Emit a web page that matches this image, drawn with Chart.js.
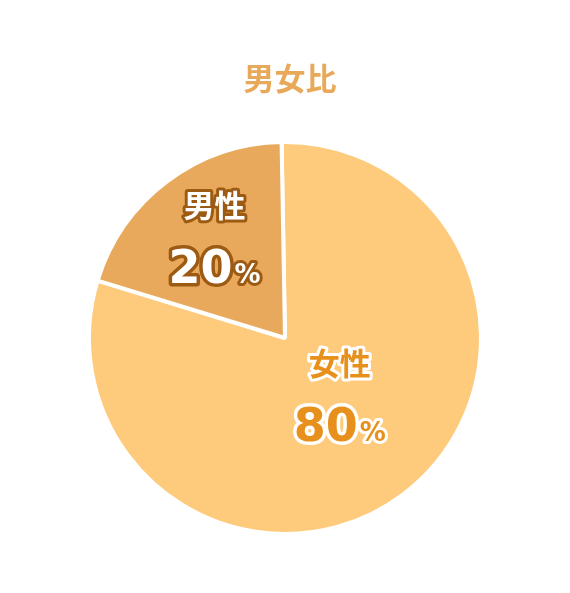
<!DOCTYPE html>
<html><head><meta charset="utf-8">
<script src="https://cdn.jsdelivr.net/npm/chart.js@4.4.0/dist/chart.umd.min.js"></script>
<style>html,body{margin:0;padding:0;background:#fff}#wrap{width:570px;height:593px}</style>
</head><body><div id="wrap"><canvas id="c"></canvas></div>
<script>
const titleText = '男女比';
const categories = ['女性', '男性'];
const values = [80, 20];
const sliceColors = ['#FECB7D', '#E8A95C'];
const labelFill = ['#E8901C', '#FFFFFF'];
const labelStroke = ['#FFFFFF', '#9C5A12'];

const FONT = '"Noto Sans CJK JP", "Noto Sans", sans-serif';
const NUMFONT = '"DejaVu Sans", "Noto Sans", sans-serif';
const labelRadius = [0.41, 0.63];
const labelShift = [[7, -5.5], [3, -2]];

const titlePlugin = {
  id: 'titleText',
  afterDraw(chart) {
    const ctx = chart.ctx;
    ctx.save();
    ctx.font = 'bold 31px ' + FONT;
    ctx.fillStyle = '#E9A95B';
    ctx.textAlign = 'center';
    ctx.textBaseline = 'middle';
    ctx.fillText(titleText, 290, 78);
    ctx.restore();
  }
};

const labelPlugin = {
  id: 'sliceLabels',
  afterDatasetsDraw(chart) {
    const ctx = chart.ctx;
    const meta = chart.getDatasetMeta(0);
    const total = values.reduce((a, b) => a + b, 0);
    meta.data.forEach((arc, i) => {
      const p = arc.getProps(['x', 'y', 'startAngle', 'endAngle', 'outerRadius'], true);
      const mid = (p.startAngle + p.endAngle) / 2;
      const r = 194 * labelRadius[i];
      const cx = p.x + Math.cos(mid) * r + labelShift[i][0];
      const cy = p.y + Math.sin(mid) * r + labelShift[i][1];
      ctx.save();
      ctx.lineJoin = 'round';
      ctx.strokeStyle = labelStroke[i];
      ctx.fillStyle = labelFill[i];
      // name
      ctx.font = 'bold 31px ' + FONT;
      ctx.textAlign = 'center';
      ctx.textBaseline = 'middle';
      ctx.lineWidth = 6;
      ctx.strokeText(categories[i], cx, cy - 33);
      ctx.fillText(categories[i], cx, cy - 33);
      // percent
      ctx.textBaseline = 'alphabetic';
      const num = String(Math.round(values[i] / total * 100));
      const numFont = 'bold 46px ' + NUMFONT;
      const pctFont = 'bold 26px ' + NUMFONT;
      ctx.font = numFont;
      const nw = ctx.measureText(num).width;
      ctx.font = pctFont;
      const pw = ctx.measureText('%').width;
      const gap = 2;
      const x0 = cx - (nw + gap + pw) / 2;
      const by = cy + 45;
      ctx.textAlign = 'left';
      ctx.lineWidth = 7;
      ctx.font = numFont;
      ctx.strokeText(num, x0, by);
      ctx.fillText(num, x0, by);
      ctx.font = pctFont;
      ctx.lineWidth = 6;
      ctx.strokeText('%', x0 + nw + gap, by);
      ctx.fillText('%', x0 + nw + gap, by);
      ctx.restore();
    });
  }
};

new Chart(document.getElementById('c'), {
  type: 'pie',
  data: {
    labels: categories,
    datasets: [{
      data: values,
      backgroundColor: sliceColors,
      borderColor: '#FFFFFF',
      borderWidth: 4
    }]
  },
  options: {
    responsive: true,
    maintainAspectRatio: false,
    animation: false,
    rotation: -1,
    layout: { padding: { left: 87, right: 87, top: 140, bottom: 57 } },
    plugins: {
      legend: { display: false },
      tooltip: { enabled: false },
      title: { display: false }
    }
  },
  plugins: [titlePlugin, labelPlugin]
});
</script></body></html>
